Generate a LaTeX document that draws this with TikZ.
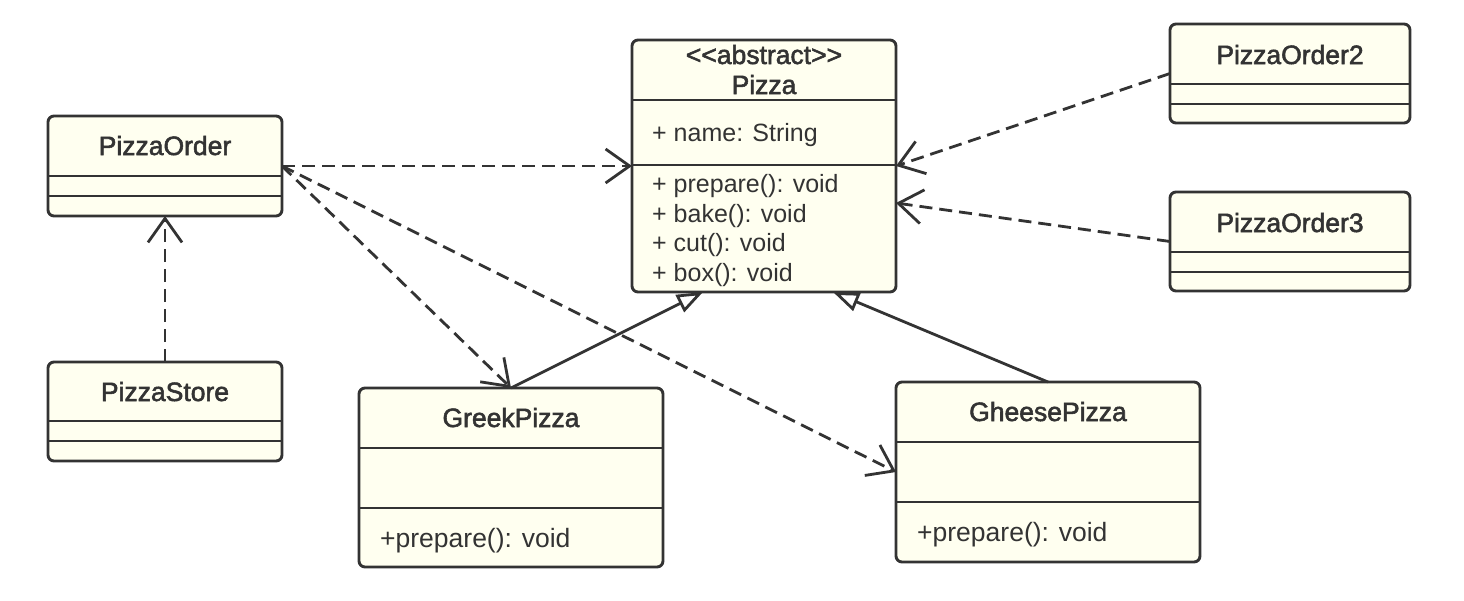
\documentclass[tikz,border=0pt]{standalone}
\usepackage{fontspec}
\setmainfont{Liberation Sans}
\newfontfamily\headfont[FakeBold=2]{Liberation Sans}
\usetikzlibrary{arrows.meta,calc}
\definecolor{ink}{HTML}{333333}
\definecolor{paper}{HTML}{FFFFF0}
\begin{document}
\begin{tikzpicture}[x=1pt,y=-1pt,
  cls/.style={draw=ink, fill=paper, line width=2.9pt, rounded corners=6pt,
              inner sep=0pt, outer sep=0pt, anchor=north west},
  sep/.style={draw=ink, line width=2.9pt},
  ttl/.style={font=\headfont\fontsize{26.5}{30}\selectfont, text=ink, inner sep=0pt, anchor=base},
  mem/.style={font=\fontsize{25}{30}\selectfont, text=ink, inner sep=0pt, anchor=base west},
  opn/.style={font=\fontsize{26.5}{30}\selectfont, text=ink, inner sep=0pt, anchor=base west},
  dep/.style={draw=ink, line width=2.8pt, dash pattern=on 13pt off 7pt,
              -{Straight Barb[length=24pt,width=34pt]}},
  gen/.style={draw=ink, line width=2.8pt,
              -{Triangle[open,length=26pt,width=19pt,fill=white]}},
]
\useasboundingbox (0,0) rectangle (1464,600);

% ---------- classes ----------
% PizzaOrder
\node[cls, minimum width=234pt, minimum height=100pt] (po) at (48,116) {};
\draw[sep] ($(po.north west)+(0,60)$) -- ($(po.north east)+(0,60)$);
\draw[sep] ($(po.north west)+(0,80)$) -- ($(po.north east)+(0,80)$);
\node[ttl] (poT) at ($(po.north)+(0,39)$) {PizzaOrder};

% PizzaStore
\node[cls, minimum width=234pt, minimum height=99pt] (ps) at (48,362) {};
\draw[sep] ($(ps.north west)+(0,59)$) -- ($(ps.north east)+(0,59)$);
\draw[sep] ($(ps.north west)+(0,79)$) -- ($(ps.north east)+(0,79)$);
\node[ttl] (psT) at ($(ps.north)+(0,39)$) {PizzaStore};

% Pizza (abstract)
\node[cls, minimum width=264pt, minimum height=252pt] (pz) at (632,40) {};
\draw[sep] ($(pz.north west)+(0,60)$) -- ($(pz.north east)+(0,60)$);
\draw[sep] ($(pz.north west)+(0,125)$) -- ($(pz.north east)+(0,125)$);
\node[ttl] (pzS) at ($(pz.north)+(0,24)$) {<<abstract>>};
\node[ttl] (pzT) at ($(pz.north)+(0,54)$) {Pizza};
\node[mem] (pzA) at (652,141) {+ name: String};
\node[mem] (pzM1) at (652,192) {+ prepare(): void};
\node[mem] (pzM2) at (652,222) {+ bake(): void};
\node[mem] (pzM3) at (652,251) {+ cut(): void};
\node[mem] (pzM4) at (652,281) {+ box(): void};

% PizzaOrder2
\node[cls, minimum width=240pt, minimum height=99pt] (po2) at (1170,24) {};
\draw[sep] ($(po2.north west)+(0,60)$) -- ($(po2.north east)+(0,60)$);
\draw[sep] ($(po2.north west)+(0,80)$) -- ($(po2.north east)+(0,80)$);
\node[ttl] (po2T) at ($(po2.north)+(0,40)$) {PizzaOrder2};

% PizzaOrder3
\node[cls, minimum width=240pt, minimum height=99pt] (po3) at (1170,192) {};
\draw[sep] ($(po3.north west)+(0,60)$) -- ($(po3.north east)+(0,60)$);
\draw[sep] ($(po3.north west)+(0,80)$) -- ($(po3.north east)+(0,80)$);
\node[ttl] (po3T) at ($(po3.north)+(0,40)$) {PizzaOrder3};

% GreekPizza
\node[cls, minimum width=304pt, minimum height=179pt] (gk) at (359,388) {};
\draw[sep] ($(gk.north west)+(0,60)$) -- ($(gk.north east)+(0,60)$);
\draw[sep] ($(gk.north west)+(0,120)$) -- ($(gk.north east)+(0,120)$);
\node[ttl] (gkT) at ($(gk.north)+(0,39)$) {GreekPizza};
\node[opn] (gkM) at (380,547) {+prepare(): void};

% GheesePizza
\node[cls, minimum width=304pt, minimum height=180pt] (gh) at (896,382) {};
\draw[sep] ($(gh.north west)+(0,60)$) -- ($(gh.north east)+(0,60)$);
\draw[sep] ($(gh.north west)+(0,120)$) -- ($(gh.north east)+(0,120)$);
\node[ttl] (ghT) at ($(gh.north)+(0,39)$) {GheesePizza};
\node[opn] (ghM) at (917,541) {+prepare(): void};

% ---------- relations ----------
\coordinate (pzE3) at ($(pz.east)+(0,37)$);
\coordinate (pzB1) at ($(pz.south)+(-61,0)$);
\coordinate (pzB2) at ($(pz.south)+(69,0)$);

\draw[dep] (po.east) -- (pz.west);
\draw[dep] (po.east) -- (gk.north);
\draw[dep] (po.east) -- (gh.west);
\draw[dep] (ps.north) -- (po.south);
\draw[dep] (po2.west) -- (pz.east);
\draw[dep] (po3.west) -- (pzE3);
\draw[gen] (gk.north) -- (pzB1);
\draw[gen] (gh.north) -- (pzB2);
\end{tikzpicture}
\end{document}
